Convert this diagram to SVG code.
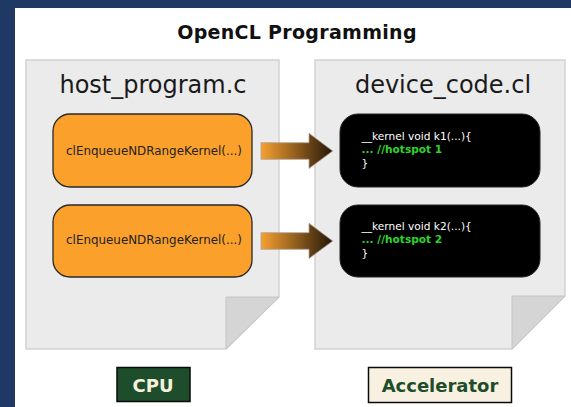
<svg xmlns="http://www.w3.org/2000/svg" width="571" height="407" viewBox="0 0 571 407">
<style>
.doc{fill:#ebebeb;stroke:#d2d2d2;stroke-width:1.5}
.fold{fill:#d5d5d5;stroke:#c4c4c4;stroke-width:1}
.fname{font-family:"DejaVu Sans",sans-serif;font-size:24px;fill:#1a1a1a;text-anchor:middle}
.call{fill:#fba02b;stroke:#2a2a2a;stroke-width:1.3}
.calltxt{font-family:"DejaVu Sans",sans-serif;font-size:11.9px;fill:#222;text-anchor:middle}
.kern{fill:#000;stroke:#222;stroke-width:1}
.ktxt{font-family:"DejaVu Sans",sans-serif;font-size:10.6px;fill:#fff}
.khot{fill:#2bd42b;font-weight:bold}
.arrow{fill:url(#ag);stroke:#b0a090;stroke-width:0.8}
.lbl{font-family:"DejaVu Sans",sans-serif;font-weight:bold;font-size:18px;text-anchor:middle}
</style>
<defs>
<linearGradient id="ag" x1="0" y1="0" x2="1" y2="0">
<stop offset="0" stop-color="#f7a030"/>
<stop offset="1" stop-color="#24170a"/>
</linearGradient>
</defs>
<rect x="0" y="0" width="571" height="407" fill="#203864"/>
<rect x="15" y="8" width="556" height="399" fill="#ffffff"/>
<text x="297" y="39" font-family="DejaVu Sans, sans-serif" font-weight="bold" font-size="19" letter-spacing="0.3" text-anchor="middle" fill="#111">OpenCL Programming</text>

<g id="host-doc">
<polygon class="doc" points="26,60 279,60 279,297 226,349 26,349"/>
<polygon class="fold" points="226,297 279,297 226,349"/>
<text class="fname" x="153" y="93">host_program.c</text>
</g>
<g id="device-doc">
<polygon class="doc" points="315,60 565,60 565,296 512,349 315,349"/>
<polygon class="fold" points="512,296 565,296 512,349"/>
<text class="fname" x="443" y="93">device_code.cl</text>
</g>

<g id="call1">
<rect class="call" x="53" y="114" width="199" height="73" rx="17"/>
<text class="calltxt" x="154" y="155">clEnqueueNDRangeKernel(...)</text>
</g>
<g id="call2">
<rect class="call" x="53" y="205" width="199" height="72" rx="17"/>
<text class="calltxt" x="154" y="244">clEnqueueNDRangeKernel(...)</text>
</g>

<g id="kernel1">
<rect class="kern" x="340" y="114" width="200" height="73" rx="18"/>
<text class="ktxt" x="361.5" y="140">__kernel void k1(...){</text>
<text class="ktxt khot" x="361.5" y="153.3">... //hotspot 1</text>
<text class="ktxt" x="361.5" y="166.7">}</text>
</g>
<g id="kernel2">
<rect class="kern" x="340" y="205" width="200" height="72" rx="18"/>
<text class="ktxt" x="361.5" y="230">__kernel void k2(...){</text>
<text class="ktxt khot" x="361.5" y="243.3">... //hotspot 2</text>
<text class="ktxt" x="361.5" y="256.7">}</text>
</g>

<g id="connectors">
<polygon class="arrow" points="261,142.7 309,142.7 309,133.3 332.7,151 309,168.5 309,159.3 261,159.3"/>
<polygon class="arrow" points="261,232.7 309,232.7 309,223.3 332.7,241 309,258.5 309,249.3 261,249.3"/>
</g>

<g id="cpu">
<rect x="117" y="367.5" width="73" height="34" fill="#1e4d2c" stroke="#0a0a0a" stroke-width="1.5"/>
<text class="lbl" x="153" y="391.5" fill="#f6f0dc">CPU</text>
</g>
<g id="accelerator">
<rect x="368.5" y="367.5" width="143" height="35" fill="#f8f1e2" stroke="#0a0a0a" stroke-width="1.5"/>
<text class="lbl" x="440" y="391.5" fill="#1e4d2c">Accelerator</text>
</g>
</svg>
